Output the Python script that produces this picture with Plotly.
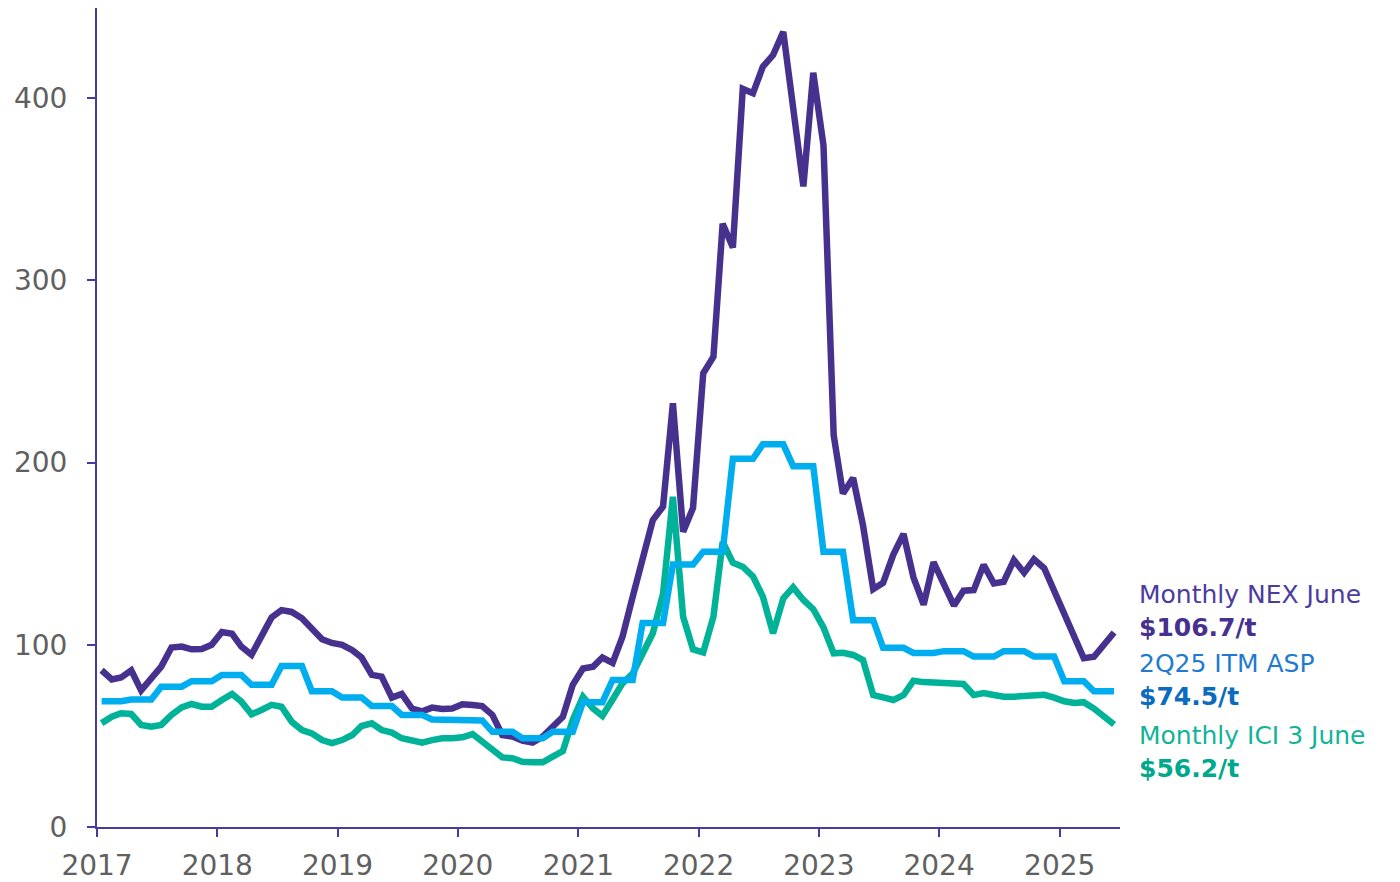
import plotly.graph_objects as go

# Monthly observation dates, Jan 2017 - Jun 2025 (plotted mid-month)
dates = [f"{y}-{m:02d}-15" for y in range(2017, 2026) for m in range(1, 13)][:102]

# Monthly NEX price ($/t)
nex = [
    86, 81, 82, 86, 75, 81.5, 88, 98.5, 99, 97.5, 97.7, 100,
    107, 106, 99, 94.5, 105, 115, 119, 118, 114.5, 109, 103, 101,
    100, 97, 93, 83.5, 82.5, 71, 73, 65, 63.5, 65.5, 64.7, 65,
    67.3, 67, 66.4, 61.5, 50.5, 49.6, 47.4, 46.3, 49.6, 55, 60.5, 78,
    87, 88, 93, 90, 104.4, 126.4, 146.5, 168.4, 175.8, 232.5, 162, 175,
    249, 258, 331, 318, 405, 402.6, 417.2, 423.6, 436.3, 393, 351.5, 413.9,
    374, 215, 183, 191.5, 165.5, 130.5, 134, 149.5, 160.8, 137, 122, 145.3,
    133.5, 121.5, 129.7, 130, 143.8, 133.7, 134.6, 146.5, 139.5, 146.9, 142, 130,
    116.3, 103.5, 92.6, 93.4, 99.9, 106.7,
]

# Monthly ICI 3 price ($/t)
ici3 = [
    57, 60.5, 62.4, 62, 56, 55, 56, 61.5, 65.6, 67.5, 66, 66,
    69.7, 73, 68.8, 61.8, 64.2, 67, 66, 57.8, 53.2, 51.4, 47.7, 46,
    47.7, 50.5, 55.4, 56.9, 53.2, 51.8, 48.7, 47.4, 46.3, 47.7, 48.7, 48.7,
    49.2, 51, 46.8, 42.2, 38.2, 37.7, 35.8, 35.5, 35.5, 38.6, 41.7, 58.7,
    71.5, 65, 61, 70, 78.8, 84.2, 95.2, 106.3, 128, 181.2, 115.4, 97.5,
    95.8, 115.4, 156.5, 145, 142.8, 137.5, 126.4, 106.2, 125.5, 131.5, 124.6, 119.5,
    109.5, 95.3, 95.6, 94.4, 91.6, 72.4, 71.1, 69.7, 72.4, 80.3, 79.5, 79.3,
    79.3, 79, 78.5, 72.4, 73.5, 72.4, 71.5, 71.5, 72, 72.5, 72.5, 71,
    69, 68, 68.5, 65, 61, 56.2,
]

# Quarterly ITM average selling price ($/t), 1Q17 - 2Q25
itm_quarterly = [
    69, 70, 77, 80,
    83.4, 78, 88.3, 74.5,
    71, 66.4, 61.5, 59,
    58.5, 52.3, 48.7, 52.3,
    68.5, 80.7, 112, 144,
    151, 202, 210, 198,
    151, 113.5, 98.3, 95.5,
    96.5, 93.5, 96.5, 93.5,
    80, 74.5,
]
# each quarterly value holds for its three months
itm = [v for v in itm_quarterly for _ in range(3)]

year_ticks = [f"{y}-01-01" for y in range(2017, 2026)]
year_labels = [str(y) for y in range(2017, 2026)]
y_ticks = [0, 100, 200, 300, 400]

PURPLE = "#47318E"
BLUE = "#00AEEF"
TEAL = "#00B398"
AXIS = "#4B3A9E"
GREY = "#606060"
FONT = "DejaVu Sans"

fig = go.Figure()
fig.add_trace(go.Scatter(x=dates, y=nex, mode="lines", name="Monthly NEX",
                         line=dict(color=PURPLE, width=6.5)))
fig.add_trace(go.Scatter(x=dates, y=ici3, mode="lines", name="Monthly ICI 3",
                         line=dict(color=TEAL, width=6.5)))
fig.add_trace(go.Scatter(x=dates, y=itm, mode="lines", name="ITM ASP",
                         line=dict(color=BLUE, width=6.5)))

# End-of-series labels: series name with its latest value underneath
labels = [
    ("Monthly NEX June", f"${nex[-1]:.1f}/t", 118.5, "#4B3C9E", PURPLE),
    ("2Q25 ITM ASP", f"${itm[-1]:.1f}/t", 80.9, "#1F7BD0", "#0B6BBF"),
    ("Monthly ICI 3 June", f"${ici3[-1]:.1f}/t", 41.2, "#13B39A", "#00A88D"),
]
for name, value, y_mid, c_name, c_value in labels:
    fig.add_annotation(
        x=1.0166, xref="paper", y=y_mid, yref="y",
        text=f"{name}<br><span style='color:{c_value}'><b>{value}</b></span>",
        showarrow=False, xanchor="left", yanchor="middle", align="left",
        font=dict(family=FONT, size=25, color=c_name),
    )

fig.update_layout(
    width=1400, height=882,
    margin=dict(l=97, r=280, t=8, b=55),
    paper_bgcolor="white", plot_bgcolor="white",
    showlegend=False,
    font=dict(family=FONT, color=GREY, size=28),
    xaxis=dict(
        type="date", range=["2017-01-01", "2025-07-03"],
        tickvals=year_ticks, ticktext=year_labels,
        showgrid=False, zeroline=False, automargin=False,
        showline=True, linecolor=AXIS, linewidth=2,
        ticks="outside", ticklen=8, tickcolor=AXIS, tickwidth=2,
        tickfont=dict(family=FONT, size=28, color=GREY),
        ticklabelstandoff=4,
    ),
    yaxis=dict(
        range=[0, 449.4], tickvals=y_ticks,
        showgrid=False, zeroline=False, automargin=False,
        showline=True, linecolor=AXIS, linewidth=2,
        ticks="outside", ticklen=8, tickcolor=AXIS, tickwidth=2,
        tickfont=dict(family=FONT, size=28, color=GREY),
        ticklabelstandoff=14,
    ),
)

fig.write_html("out.html")
